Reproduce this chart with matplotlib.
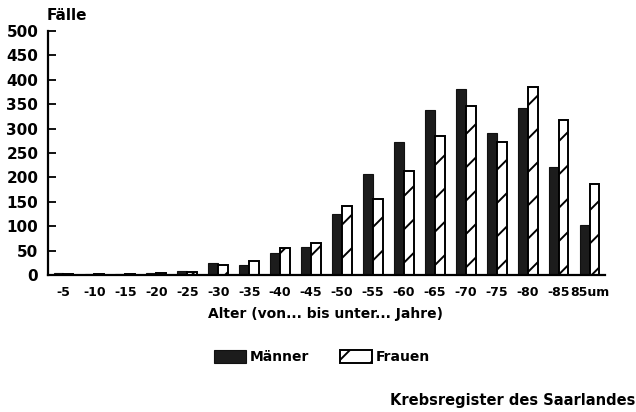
import matplotlib.pyplot as plt
import numpy as np

plt.rcParams.update({
    "font.family": "DejaVu Sans",
    "font.weight": "bold",
    "hatch.linewidth": 1.4,
})

groups = ["-5", "-10", "-15", "-20", "-25", "-30", "-35", "-40", "-45", "-50",
          "-55", "-60", "-65", "-70", "-75", "-80", "-85", "85um"]
maenner = [4, 3, 3, 4, 8, 24, 20, 46, 58, 126, 207, 272, 339, 382, 290, 343, 222, 102]
frauen = [3, 3, 3, 5, 6, 20, 29, 56, 65, 141, 155, 213, 285, 346, 273, 386, 318, 186]

W, H = 636, 412
fig = plt.figure(figsize=(W / 100, H / 100), dpi=100)
ax = fig.add_axes([48 / W, 1 - 275 / H, 557 / W, 244 / H])

x = np.arange(len(groups))
w = 0.32
ax.bar(x - w / 2, maenner, w, color="#1c1c1c", edgecolor="#111111", linewidth=0.8, label="Männer")
ax.bar(x + w / 2, frauen, w, color="white", edgecolor="black", linewidth=1.4,
       hatch="/", label="Frauen")

ax.set_xlim(-0.5, len(groups) - 0.5)
ax.set_ylim(0, 500)
ax.set_yticks(range(0, 501, 50))
ax.tick_params(axis="y", direction="in", length=6, width=1.3, labelsize=11, pad=7)
ax.tick_params(axis="x", length=0, labelsize=9, pad=8)
ax.set_xticks(x)
ax.set_xticklabels(groups)
for s in ["top", "right"]:
    ax.spines[s].set_visible(False)
ax.spines["left"].set_linewidth(1.6)
ax.spines["bottom"].set_linewidth(1.6)

fig.text(326 / W, 1 - 314 / H, "Alter (von... bis unter... Jahre)", fontsize=10,
         ha="center", va="center")
fig.text(47 / W, 1 - 16 / H, "Fälle", fontsize=11, ha="left", va="center")

fig.legend(loc="center", bbox_to_anchor=(322 / W, 1 - 357 / H), ncol=2, frameon=False,
           fontsize=10, handlelength=2.3, handleheight=1.1, columnspacing=2.2,
           handletextpad=0.25)
fig.text(635 / W, 1 - 401 / H, "Krebsregister des Saarlandes", fontsize=10.5,
         ha="right", va="center")

fig.savefig("out.png", dpi=100)
